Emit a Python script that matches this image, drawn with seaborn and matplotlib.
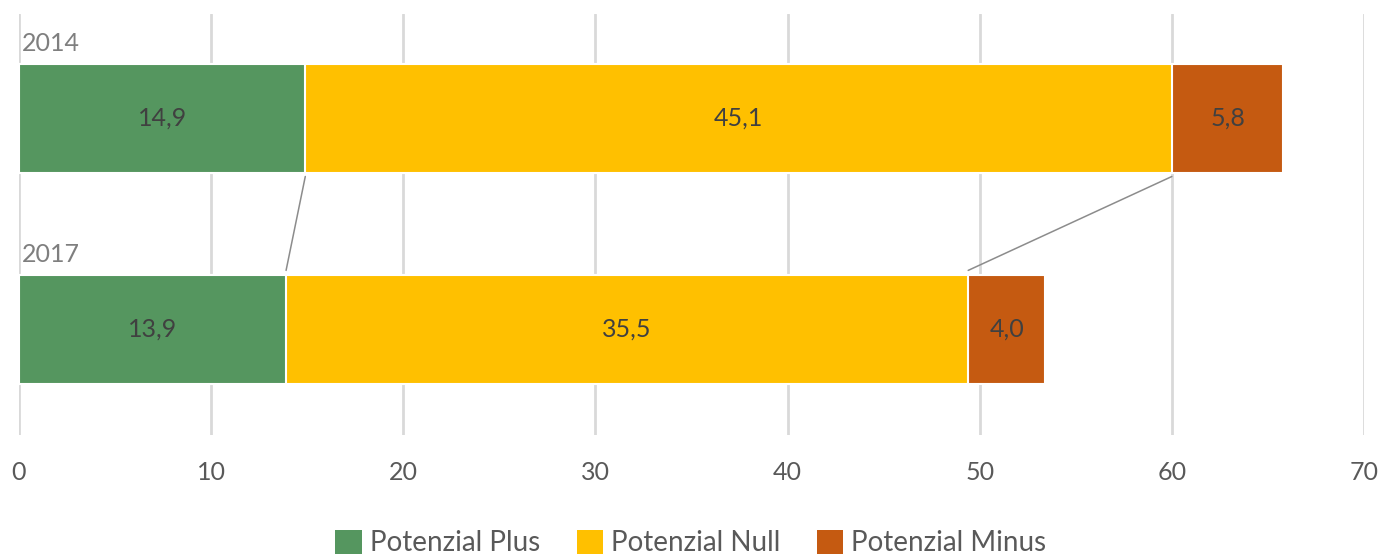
import matplotlib
matplotlib.use("Agg")
import matplotlib.pyplot as plt
from matplotlib.patches import Patch
import numpy as np
import pandas as pd
import seaborn as sns

# Data
years = ["2014", "2017"]
segments = ["Potenzial Plus", "Potenzial Null", "Potenzial Minus"]
plus_vals = [14.9, 13.9]
null_vals = [45.1, 35.5]
minus_vals = [5.8, 4.0]
x_ticks = [0, 10, 20, 30, 40, 50, 60, 70]

colors = {"Potenzial Plus": "#55965F", "Potenzial Null": "#FFC000", "Potenzial Minus": "#C55A11"}

sns.set_theme(style="white")
plt.rcParams["font.family"] = ["Lato", "DejaVu Sans"]

values = np.array([plus_vals, null_vals, minus_vals])  # shape (segments, years)
cum = np.cumsum(values, axis=0)
starts = cum - values

fig = plt.figure(figsize=(13.82, 5.56), dpi=100)
ax = fig.add_axes([19 / 1382, 1 - 435 / 556, (1364 - 19) / 1382, (435 - 14) / 556])

bar_h = 0.52
# stacked bars: draw cumulative totals from the outermost segment inwards
for i in reversed(range(len(segments))):
    df = pd.DataFrame({"year": years, "end": cum[i]})
    sns.barplot(data=df, x="end", y="year", order=years, orient="h",
                color=colors[segments[i]], saturation=1, width=bar_h,
                edgecolor="white", linewidth=1.5, ax=ax, zorder=2)

# value labels centred in each segment
for i in range(len(segments)):
    for j in range(len(years)):
        ax.text(starts[i, j] + values[i, j] / 2, j, f"{values[i, j]:.1f}".replace(".", ","),
                ha="center", va="center", fontsize=18, color="#404040", zorder=4)

# year labels above each bar
for j, yr in enumerate(years):
    ax.text(0.15, j - bar_h / 2 - 0.04, yr, ha="left", va="bottom",
            fontsize=18, color="#7F7F7F", zorder=4)

# connector lines between segment boundaries of consecutive bars
for i in range(2):
    ax.plot([cum[i, 0], cum[i, 1]],
            [0 + bar_h / 2 + 0.015, 1 - bar_h / 2 - 0.02],
            color="#8C8C8C", lw=1.1, zorder=3)

ax.set_xlim(0, 70)
ax.set_ylim(1.5, -0.495)
ax.set_xticks(x_ticks)
ax.set_xticklabels([str(t) for t in x_ticks])
ax.set_yticks([])
ax.set_xlabel("")
ax.set_ylabel("")
ax.grid(axis="x", color="#D9D9D9", lw=2, zorder=0)
ax.set_axisbelow(True)
ax.tick_params(axis="x", length=0, pad=19, labelsize=18, labelcolor="#595959")
for s in ax.spines.values():
    s.set_visible(False)

handles = [Patch(facecolor=colors[s], edgecolor="none", label=s) for s in segments]
fig.legend(handles=handles, loc="center", bbox_to_anchor=(0.5, 1 - 543 / 556),
           ncol=3, frameon=False, fontsize=20, labelcolor="#595959",
           handlelength=0.95, handleheight=0.95, handletextpad=0.3, columnspacing=1.3)

fig.savefig("out.png", dpi=100)
